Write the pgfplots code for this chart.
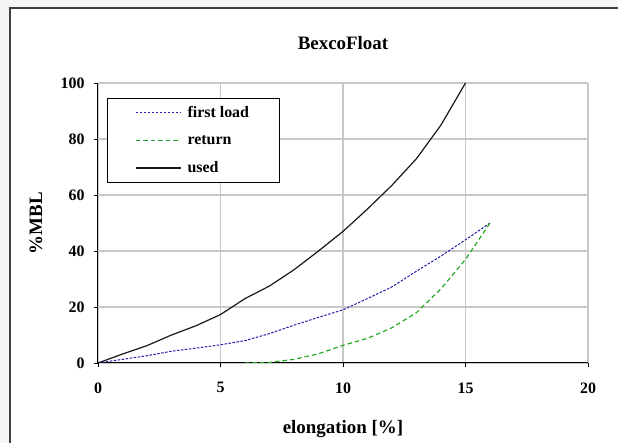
\documentclass[border=0pt]{standalone}
\usepackage{pgfplots}
\pgfplotsset{compat=1.18}
\usepackage{fontspec}
\setmainfont{Liberation Serif}

\definecolor{gridgray}{RGB}{200,200,200}
\definecolor{loadblue}{RGB}{30,30,170}
\definecolor{retgreen}{RGB}{40,170,40}

\begin{document}
\begin{tikzpicture}[x=1bp,y=1bp]
  % frame of the chart area
  \useasboundingbox (-98,-80) rectangle (520,363);
  \fill[gray!8] (-98,-80) rectangle (520,363);
  \fill[white] (-88,-80) rectangle (520,355);
  \draw[line width=1.5bp, black!75] (-88,-80) -- (-88,355) -- (520,355);

  \begin{axis}[
    at={(0,0)}, anchor=origin,
    scale only axis,
    width=490bp, height=280bp,
    xmin=0, xmax=20, ymin=0, ymax=100,
    xtick={0,5,10,15,20},
    ytick={0,20,40,60,80,100},
    axis x line*=bottom, axis y line*=left,
    axis line style={line width=1bp, black, -},
    grid=major,
    grid style={gridgray, line width=1.2bp},
    tick align=outside,
    major tick length=4bp,
    tick style={black, line width=0.8bp},
    /pgf/number format/assume math mode=true,
    ticklabel style={font=\bfseries\fontsize{16}{16}\selectfont},
    xticklabel style={yshift=-12bp},
    yticklabel style={xshift=-6bp},
    title={BexcoFloat},
    title style={font=\bfseries\fontsize{19}{19}\selectfont, at={(rel axis cs:0.5,1)}, anchor=center, yshift=34bp},
    xlabel={elongation [\%]},
    xlabel style={font=\bfseries\fontsize{19}{19}\selectfont, at={(rel axis cs:0.5,0)}, anchor=center, yshift=-66bp},
    ylabel={\%MBL},
    ylabel style={font=\bfseries\fontsize{19}{19}\selectfont, at={(rel axis cs:0,0.5)}, anchor=center, yshift=62bp},
    legend style={at={(rel axis cs:0.018,0.946)}, anchor=north west,
      inner xsep=28bp, inner ysep=6bp,
      row sep=12bp,
      font=\bfseries\fontsize{16}{16}\selectfont},
    every axis legend/.append style={line width=1bp},
    legend cell align=left,
    legend image code/.code={\draw[#1] (0bp,0bp) -- (45bp,0bp); \path (49bp,0bp);},
  ]
    \addplot[loadblue, line width=1bp, dash pattern=on 2.5bp off 1.5bp] coordinates {
      (0,0) (1,1.3) (2,2.6) (3,4.2) (4,5.3) (5,6.5) (6,8) (7,10.5) (8,13.5)
      (9,16.3) (10,19) (11,23) (12,27.2) (13,32.8) (14,38.2) (15,44) (16,50)
    };
    \addlegendentry{first load}
    \addplot[retgreen, line width=1.2bp, dash pattern=on 4.5bp off 3bp] coordinates {
      (6,0) (7,0.2) (8,1.3) (9,3.3) (10,6.3) (11,8.8) (12,12.6) (13,18)
      (14,26.5) (15,37) (16,50)
    };
    \addlegendentry{return}
    \addplot[black!90, line width=1.2bp] coordinates {
      (0,0) (1,3.2) (2,6.2) (3,10) (4,13.3) (5,17.3) (6,23) (7,27.5) (8,33.3)
      (9,40) (10,47) (11,55) (12,63.5) (13,73) (14,85) (15,100)
    };
    \addlegendentry{used}
  \end{axis}
\end{tikzpicture}
\end{document}
